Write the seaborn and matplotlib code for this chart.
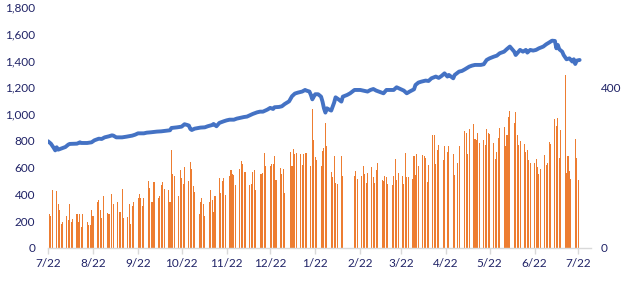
import pandas as pd
import matplotlib
matplotlib.use("Agg")
import matplotlib.pyplot as plt
import matplotlib.dates as mdates
from matplotlib.ticker import FuncFormatter, FixedLocator
import seaborn as sns

# ---------------- data ----------------
start_date = "2021-07-22"          # first x tick / axis start
first_bar_slot = "2021-07-21"      # first day slot of week 0 for the bar series

# bar series: one list of five daily values per week (None = no bar)
bar_weeks = [
    [None, None, 250, 240, 430],
    [425, 330, 285, 180, 195],
    [235, 210, 330, 195, 215],
    [250, 195, 250, 155, 255],
    [195, 170, 175, 280, 240],
    [340, 355, 285, 225, 390],
    [260, 255, None, 400, 330],
    [345, 270, 270, 440, 225],
    [230, 325, 180, 315, 340],
    [375, 400, 370, 310, 370],
    [500, 445, 340, 345, 495],
    [370, 385, 470, 490, 440],
    [430, 345, 730, 550, 535],
    [385, 580, 525, 475, 605],
    [500, 640, 590, 460, 415],
    [250, 340, 370, 325, 240],
    [345, 430, 355, 265, 385],
    [525, 410, 500, 520, 395],
    [535, 580, 555, 545, 470],
    [590, 650, 630, 570, 565],
    [470, 480, 565, 580, 430],
    [550, 550, 560, 710, 610],
    [615, 630, 630, 690, 510],
    [600, 555, 590, 410, None],
    [720, 610, 740, 700, 710],
    [700, 620, 700, 710, 710],
    [612, 1036, 806, 677, 657],
    [612, 724, 744, 933, 762],
    [567, 530, 685, 485, 476],
    [685, 537, None, None, None],
    [None, None, 537, 575, 515],
    [537, 612, 552, 485, 560],
    [605, 530, 485, 582, 635],
    [508, 500, 537, 530, 478],
    [470, 537, 665, 508, 560],
    [540, 480, 709, 533, 533],
    [518, 689, 547, 702, 615],
    [694, 687, 672, 493, 622],
    [844, 844, 627, 732, 769],
    [657, 762, None, 717, 762],
    [702, 547, None, 635, 762],
    [None, 874, 859, 702, 889],
    [926, 814, 807, 859, 784],
    [807, 769, 889, 859, 851],
    [784, 665, 717, 821, 896],
    [904, 762, 844, 978, 1023],
    [934, 1016, 844, 769, 799],
    [777, 717, 732, 657, 635],
    [635, 665, 605, 553, 590],
    [694, 620, 635, 792, 777],
    [963, 911, 971, 672, 881],
    [1292, 560, 687, 575, 515],
    [814, 672, 508, None, None],
]

# line series: day offsets from start_date and values
line_days = [
    0, 2, 4, 5, 6, 7, 9, 12, 14, 15, 20, 22, 23, 27, 30, 32, 35, 37, 39, 42,
    44, 45, 47, 51, 54, 58, 60, 62, 66, 68, 71, 75, 78, 82, 84, 85, 89, 92, 94, 96,
    97, 98, 99, 101, 105, 108, 110, 113, 114, 116, 118, 121, 123, 125, 128, 130, 132, 135, 137, 139,
    141, 144, 146, 148, 151, 153, 155, 156, 159, 161, 163, 166, 168, 170, 172, 175, 177,
    178, 180, 181, 182, 183, 184, 186, 188, 189, 190, 191, 192, 194, 195, 197, 198, 200, 202, 203,
    206, 208, 211, 215, 217, 220, 222, 224, 226, 229, 231, 233, 236, 238, 240, 242, 245, 247, 249, 252,
    253, 255, 257, 260, 262, 264, 267, 269, 271, 273, 275, 276, 279, 280, 283, 285, 287, 290, 292, 294,
    298, 300, 302, 304, 307, 309, 311, 314, 316, 318, 319, 321, 322, 324, 325, 327, 329, 330, 332, 334,
    336, 338, 341, 343, 345, 347, 349, 350, 351, 352, 354, 355, 357, 359, 361, 362, 363, 364, 366,
]
line_values = [
    797, 779, 747, 729, 752, 734, 742, 754, 772, 777, 779, 789, 784, 784, 789, 804, 816, 814, 826, 834,
    841, 839, 826, 826, 831, 839, 846, 856, 856, 861, 864, 869, 871, 876, 879, 896, 901, 906, 924, 918,
    914, 889, 881, 891, 899, 901, 909, 918, 926, 909, 934, 946, 953, 958, 958, 966, 971, 978, 981, 991,
    1001, 1013, 1018, 1018, 1033, 1046, 1038, 1051, 1053, 1058, 1075, 1095, 1133, 1153, 1160, 1168, 1180,
    1175, 1168, 1143, 1110, 1130, 1148, 1148, 1130, 1093, 1043, 1011, 1043, 1031, 1026, 1085, 1125, 1110, 1093, 1130,
    1143, 1155, 1180, 1180, 1175, 1168, 1180, 1187, 1175, 1163, 1155, 1180, 1180, 1180, 1200, 1190, 1175, 1155, 1168, 1185,
    1217, 1235, 1242, 1250, 1247, 1267, 1280, 1270, 1285, 1304, 1280, 1292, 1267, 1292, 1317, 1322, 1334, 1354, 1362, 1367,
    1367, 1372, 1404, 1416, 1429, 1436, 1454, 1466, 1486, 1504, 1491, 1466, 1441, 1466, 1479, 1466, 1479, 1459, 1479, 1474,
    1479, 1491, 1504, 1521, 1534, 1548, 1546, 1491, 1516, 1484, 1466, 1441, 1409, 1416, 1392, 1409, 1374, 1399, 1404,
]

left_ticks = [0, 200, 400, 600, 800, 1000, 1200, 1400, 1600, 1800]
right_ticks = [0, 400]
x_tick_dates = ["2021-07-22", "2021-08-22", "2021-09-22", "2021-10-22", "2021-11-22",
                "2021-12-22", "2022-01-22", "2022-02-22", "2022-03-22", "2022-04-22",
                "2022-05-22", "2022-06-22", "2022-07-22"]
x_end_date = "2022-07-31"

# ---------------- build tables ----------------
rows = []
slot0 = pd.Timestamp(first_bar_slot)
for w, week in enumerate(bar_weeks):
    for k, v in enumerate(week):
        if v is not None:
            rows.append((slot0 + pd.Timedelta(days=7 * w + k), v))
bars = pd.DataFrame(rows, columns=["date", "value"])
bars["x"] = mdates.date2num(bars["date"])

line = pd.DataFrame({
    "date": pd.Timestamp(start_date) + pd.to_timedelta(line_days, unit="D"),
    "value": line_values,
})
line["x"] = mdates.date2num(line["date"])

# ---------------- plot ----------------
sns.set_theme(style="white")
plt.rcParams["font.family"] = ["Lato", "DejaVu Sans"]
text_color = "#1f2266"

fig = plt.figure(figsize=(6.23, 2.89), dpi=100)
ax = fig.add_axes([0.077, 0.142, 0.872, 0.834])

ax.bar(bars["x"], bars["value"], width=0.72, color="#ED7D31", linewidth=0,
       antialiased=False, zorder=2)
sns.lineplot(data=line, x="x", y="value", color="#4472C4", linewidth=2.8,
             ax=ax, zorder=3, sort=False)

ax.set_xlim(mdates.date2num(pd.Timestamp(start_date)), mdates.date2num(pd.Timestamp(x_end_date)))
ax.set_ylim(0, 1800)
ax.yaxis.set_major_locator(FixedLocator(left_ticks))
ax.yaxis.set_major_formatter(FuncFormatter(lambda v, p: f"{int(v):,}"))
xt = mdates.date2num(pd.to_datetime(x_tick_dates))
ax.xaxis.set_major_locator(FixedLocator(xt))
ax.xaxis.set_major_formatter(FuncFormatter(
    lambda v, p: f"{mdates.num2date(v).month}/{mdates.num2date(v).day}"))
ax.set_xlabel("")
ax.set_ylabel("")

for s in ["top", "right", "left"]:
    ax.spines[s].set_visible(False)
ax.spines["bottom"].set_color("#D9D9D9")
ax.spines["bottom"].set_linewidth(1.0)
ax.tick_params(axis="x", length=4, width=1, color="#D9D9D9", pad=3,
               labelsize=8.5, labelcolor=text_color, bottom=True)
ax.tick_params(axis="y", length=0, pad=9, labelsize=8.5, labelcolor=text_color, left=True)
ax.grid(False)

ax2 = ax.twinx()
ax2.set_ylim(0, 600)
ax2.yaxis.set_major_locator(FixedLocator(right_ticks))
ax2.yaxis.set_major_formatter(FuncFormatter(lambda v, p: f"{int(v):,}"))
for s in ["top", "right", "left", "bottom"]:
    ax2.spines[s].set_visible(False)
ax2.tick_params(axis="y", length=0, pad=7, labelsize=8.5, labelcolor=text_color)
ax2.grid(False)

fig.savefig("out.png", dpi=100)
